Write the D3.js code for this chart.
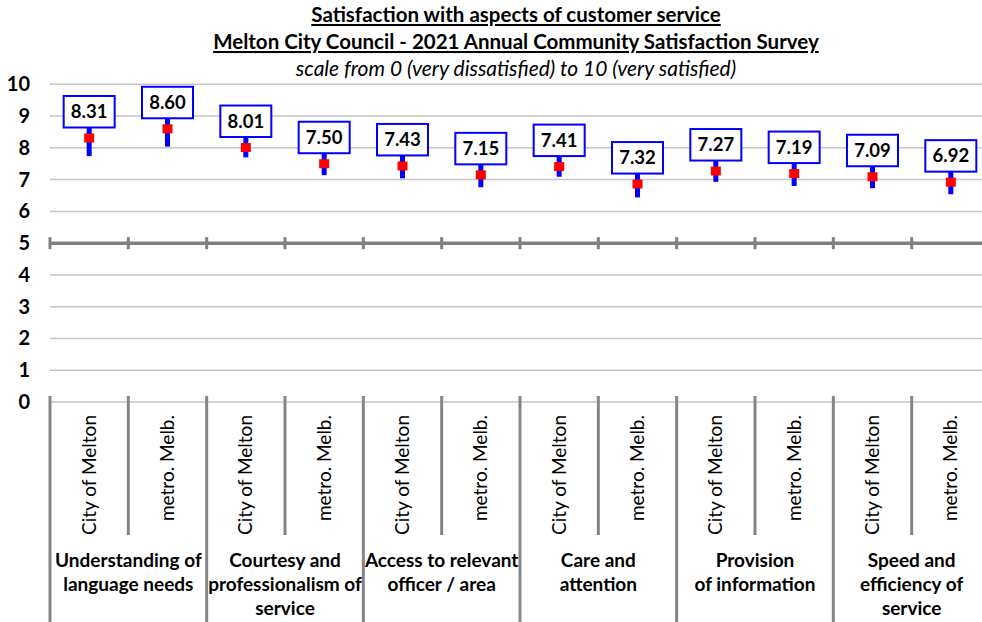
<!DOCTYPE html>
<html>
<head>
<meta charset="utf-8">
<script src="https://cdn.jsdelivr.net/npm/d3@7"></script>
<style>
	body { margin: 0; background: #fff; }
	svg { display: block; font-family: Lato, "Open Sans", sans-serif; }
</style>
</head>
<body>
<div id="graphicContainer"></div>
<script>
// chart data
var titleLines = ["Satisfaction with aspects of customer service", "Melton City Council - 2021 Annual Community Satisfaction Survey"]
var subTitle = "scale from 0 (very dissatisfied) to 10 (very satisfied)"

var groups = [
	["Understanding of", "language needs"],
	["Courtesy and", "professionalism of", "service"],
	["Access to relevant", "officer / area"],
	["Care and", "attention"],
	["Provision", "of information"],
	["Speed and", "efficiency of", "service"]
]
var series = ["City of Melton", "metro. Melb."]

var meanValues = [8.31, 8.60, 8.01, 7.50, 7.43, 7.15, 7.41, 6.86, 7.27, 7.19, 7.09, 6.92]
var labelValues = ["8.31", "8.60", "8.01", "7.50", "7.43", "7.15", "7.41", "7.32", "7.27", "7.19", "7.09", "6.92"]
var lowerValues = [7.74, 8.04, 7.70, 7.14, 7.04, 6.76, 7.09, 6.44, 6.93, 6.80, 6.73, 6.54]
var upperValues = [8.88, 9.16, 8.32, 7.86, 7.82, 7.54, 7.73, 7.28, 7.61, 7.58, 7.45, 7.30]
var yTicks = [0, 1, 2, 3, 4, 5, 6, 7, 8, 9, 10]

function init() {
	var width = 982, height = 622
	var left = 50, right = 990, bottomAxis = 402, topAxis = 84.3

	var svg = d3.select("#graphicContainer").append("svg")
		.attr("width", width)
		.attr("height", height)

	// one row per point
	var data = []
	groups.forEach(function(g, gi) {
		series.forEach(function(s, si) {
			var i = gi * 2 + si
			data.push({key: i, group: gi, series: s, mean: meanValues[i], label: labelValues[i], lo: lowerValues[i], hi: upperValues[i]})
		})
	})

	var x = d3.scaleBand().domain(data.map(function(d) { return d.key })).range([left, right])
	var y = d3.scaleLinear().domain([0, 10]).range([bottomAxis, topAxis])
	var bw = x.bandwidth()

	// titles
	var titles = svg.append("g").attr("text-anchor", "middle").attr("fill", "#000")
	titles.selectAll(".title")
		.data(titleLines)
		.enter().append("text")
		.attr("class", "title")
		.attr("x", 516)
		.attr("y", function(d, i) { return 22 + i * 27 })
		.style("font-size", "20.5px")
		.style("font-weight", "bold")
		.style("text-decoration", "underline")
		.text(function(d) { return d })
	titles.append("text")
		.attr("x", 516)
		.attr("y", 76)
		.style("font-size", "21px")
		.style("font-style", "italic")
		.text(subTitle)

	// gridlines
	svg.append("g").selectAll("line")
		.data(yTicks.filter(function(d) { return d != 5 }))
		.enter().append("line")
		.attr("x1", left).attr("x2", right)
		.attr("y1", function(d) { return y(d) }).attr("y2", function(d) { return y(d) })
		.attr("stroke", "#c6c6c6")
		.attr("stroke-width", 1.5)

	// heavy line at 5
	svg.append("line")
		.attr("x1", left).attr("x2", right)
		.attr("y1", y(5)).attr("y2", y(5))
		.attr("stroke", "#808080")
		.attr("stroke-width", 3.5)

	var bounds = d3.range(data.length + 1)
	function bx(i) { return i < data.length ? x(i) : x(data.length - 1) + bw }

	svg.append("g").selectAll("line")
		.data(bounds)
		.enter().append("line")
		.attr("x1", bx).attr("x2", bx)
		.attr("y1", y(5) - 6).attr("y2", y(5) + 6)
		.attr("stroke", "#808080")
		.attr("stroke-width", 3)

	// category dividers below 0
	svg.append("g").selectAll("line")
		.data(bounds)
		.enter().append("line")
		.attr("x1", bx).attr("x2", bx)
		.attr("y1", y(0) - 6)
		.attr("y2", function(d) { return d % 2 == 0 ? height : 535 })
		.attr("stroke", "#858585")
		.attr("stroke-width", 3)

	// y labels
	svg.append("g").selectAll("text")
		.data(yTicks)
		.enter().append("text")
		.attr("x", 30)
		.attr("y", function(d) { return y(d) })
		.attr("dy", "0.35em")
		.attr("text-anchor", "end")
		.style("font-size", "20px")
		.style("font-weight", "bold")
		.text(function(d) { return d })

	// series labels, rotated
	svg.append("g").selectAll("text")
		.data(data)
		.enter().append("text")
		.attr("transform", function(d) { return "translate(" + (x(d.key) + bw / 2) + ",415) rotate(-90)" })
		.attr("dy", "0.35em")
		.attr("text-anchor", "end")
		.style("font-size", "19px")
		.text(function(d) { return d.series })

	// group labels
	var gl = svg.append("g").selectAll("text")
		.data(groups)
		.enter().append("text")
		.attr("text-anchor", "middle")
		.style("font-size", "19px")
		.style("font-weight", "bold")
	gl.selectAll("tspan")
		.data(function(d, gi) { return d.map(function(t) { return {t: t, gi: gi} }) })
		.enter().append("tspan")
		.attr("x", function(d) { return x(d.gi * 2) + bw })
		.attr("y", function(d, i) { return 567 + i * 24 })
		.text(function(d) { return d.t })

	// error bars
	var pts = svg.append("g")
	pts.selectAll(".err")
		.data(data)
		.enter().append("line")
		.attr("class", "err")
		.attr("x1", function(d) { return x(d.key) + bw / 2 })
		.attr("x2", function(d) { return x(d.key) + bw / 2 })
		.attr("y1", function(d) { return y(d.lo) })
		.attr("y2", function(d) { return y(d.hi) })
		.attr("stroke", "#0000ff")
		.attr("stroke-width", 5)

	// value boxes
	var boxW = 51, boxH = 31.5
	var boxes = pts.selectAll(".box")
		.data(data)
		.enter().append("g")
		.attr("class", "box")
		.attr("transform", function(d) { return "translate(" + (x(d.key) + bw / 2) + "," + (y(d.mean) - 10.5 - boxH) + ")" })
	boxes.append("rect")
		.attr("x", -boxW / 2)
		.attr("width", boxW)
		.attr("height", boxH)
		.attr("fill", "#fff")
		.attr("stroke", "#0000ff")
		.attr("stroke-width", 2)
	boxes.append("text")
		.attr("y", boxH / 2)
		.attr("dy", "0.35em")
		.attr("text-anchor", "middle")
		.style("font-size", "18.5px")
		.style("font-weight", "bold")
		.text(function(d) { return d.label })

	// means
	pts.selectAll(".mean")
		.data(data)
		.enter().append("rect")
		.attr("class", "mean")
		.attr("x", function(d) { return x(d.key) + bw / 2 - 5 })
		.attr("y", function(d) { return y(d.mean) - 4.5 })
		.attr("width", 10)
		.attr("height", 9)
		.attr("fill", "#ff0000")
}

init()
</script>
</body>
</html>
